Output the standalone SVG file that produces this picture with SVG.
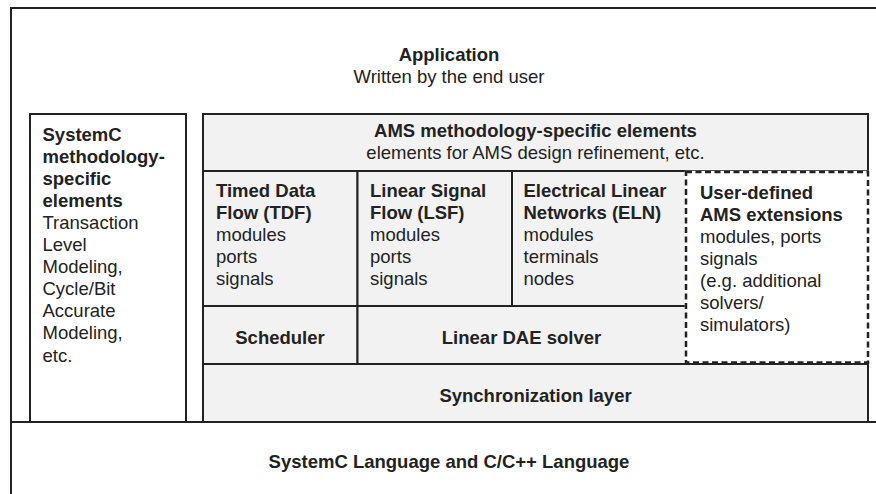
<svg xmlns="http://www.w3.org/2000/svg" width="876" height="494" viewBox="0 0 876 494">
<style>
.box{fill:#ffffff;stroke:#222;stroke-width:2}
.cell{fill:#f2f2f2;stroke:#222;stroke-width:2}
.dash{fill:none;stroke:#222;stroke-width:2.5;stroke-dasharray:6 3.5}
.wht{fill:#ffffff;stroke:#ffffff;stroke-width:2.5}
text{font-family:"Liberation Sans",Arial,sans-serif;font-size:18.5px;fill:#222}
.b{font-weight:bold}
.c{text-anchor:middle}
</style>
<rect width="876" height="494" fill="#ffffff"/>
<g id="application">
<rect class="box" x="11" y="8" width="900" height="414"/>
<text class="b c" x="449" y="61">Application</text>
<text class="c" x="449" y="83">Written by the end user</text>
</g>
<g id="language">
<rect class="box" x="11" y="422" width="900" height="100"/>
<text class="b c" x="449" y="468">SystemC Language and C/C++ Language</text>
</g>
<g id="systemc-methodology">
<rect class="box" x="30" y="114" width="156" height="308"/>
<text x="42.5" y="140.5"><tspan class="b">SystemC</tspan><tspan class="b" x="42.5" dy="22.1">methodology-</tspan><tspan class="b" x="42.5" dy="22.1">specific</tspan><tspan class="b" x="42.5" dy="22.1">elements</tspan><tspan x="42.5" dy="22.1">Transaction</tspan><tspan x="42.5" dy="22.1">Level</tspan><tspan x="42.5" dy="22.1">Modeling,</tspan><tspan x="42.5" dy="22.1">Cycle/Bit</tspan><tspan x="42.5" dy="22.1">Accurate</tspan><tspan x="42.5" dy="22.1">Modeling,</tspan><tspan x="42.5" dy="22.1">etc.</tspan></text>
</g>
<g id="ams-methodology">
<rect class="cell" x="203" y="114" width="665" height="57"/>
<text class="b c" x="535.5" y="137">AMS methodology-specific elements</text>
<text class="c" x="535.5" y="159">elements for AMS design refinement, etc.</text>
</g>
<g id="tdf">
<rect class="cell" x="203" y="171" width="154.5" height="135"/>
<text x="216" y="197"><tspan class="b">Timed Data</tspan><tspan class="b" x="216" dy="22">Flow (TDF)</tspan><tspan x="216" dy="22">modules</tspan><tspan x="216" dy="22">ports</tspan><tspan x="216" dy="22">signals</tspan></text>
</g>
<g id="lsf">
<rect class="cell" x="357.5" y="171" width="154.5" height="135"/>
<text x="370" y="197"><tspan class="b">Linear Signal</tspan><tspan class="b" x="370" dy="22">Flow (LSF)</tspan><tspan x="370" dy="22">modules</tspan><tspan x="370" dy="22">ports</tspan><tspan x="370" dy="22">signals</tspan></text>
</g>
<g id="eln">
<rect class="cell" x="512" y="171" width="174" height="135"/>
<text x="523.5" y="197"><tspan class="b">Electrical Linear</tspan><tspan class="b" x="523.5" dy="22">Networks (ELN)</tspan><tspan x="523.5" dy="22">modules</tspan><tspan x="523.5" dy="22">terminals</tspan><tspan x="523.5" dy="22">nodes</tspan></text>
</g>
<g id="scheduler">
<rect class="cell" x="203" y="306" width="154.5" height="58"/>
<text class="b c" x="280" y="343.5">Scheduler</text>
</g>
<g id="linear-dae-solver">
<rect class="cell" x="357.5" y="306" width="328.5" height="58"/>
<text class="b c" x="521.5" y="343.5">Linear DAE solver</text>
</g>
<g id="user-defined">
<rect class="wht" x="686" y="172" width="182" height="190.5"/>
<rect class="dash" x="686" y="172" width="182" height="190.5"/>
<text x="700" y="198.5"><tspan class="b">User-defined</tspan><tspan class="b" x="700" dy="22">AMS extensions</tspan><tspan x="700" dy="22">modules, ports</tspan><tspan x="700" dy="22">signals</tspan><tspan x="700" dy="22">(e.g. additional</tspan><tspan x="700" dy="22">solvers/</tspan><tspan x="700" dy="22">simulators)</tspan></text>
</g>
<g id="synchronization-layer">
<rect class="cell" x="203" y="364" width="665" height="58"/>
<text class="b c" x="535.5" y="401.5">Synchronization layer</text>
</g>
<g id="connectors"/>
</svg>
